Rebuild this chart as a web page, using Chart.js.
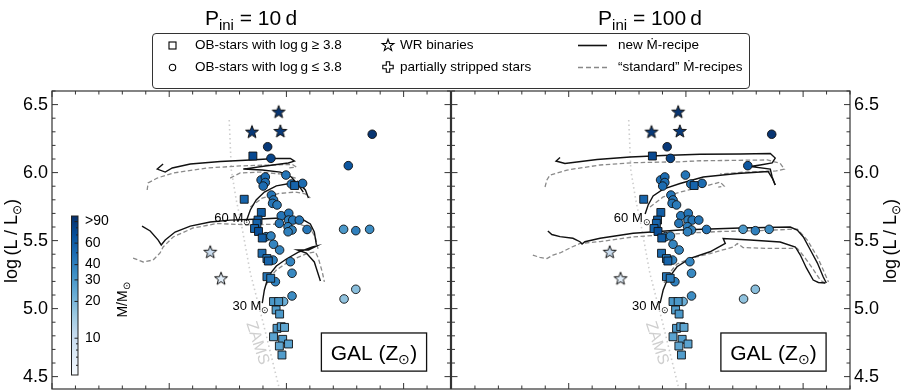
<!DOCTYPE html>
<html>
<head>
<meta charset="utf-8">
<script src="https://cdn.jsdelivr.net/npm/chart.js@4.4.1/dist/chart.umd.min.js"></script>
<style>
  html, body { margin: 0; padding: 0; background: #fff; }
  body { width: 909px; height: 391px; position: relative; overflow: hidden;
         font-family: 'Liberation Sans', Arial, Helvetica, sans-serif; color: #000; }
  canvas { position: absolute; top: 0; }
  #c1 { left: 0; }
  #c2 { left: 450px; }
  .title { position: absolute; top: 6px; font-size: 21px; line-height: 24px; white-space: nowrap; transform: translateX(-50%); }
  .title .sub { font-size: 15px; position: relative; top: 5px; }
  .ylab { position: absolute; font-size: 18px; line-height: 20px; white-space: nowrap; transform: translate(-50%, -50%) rotate(-90deg); }
  .ylab .sub { font-size: 12px; position: relative; top: 4px; }
  #legend { position: absolute; left: 152px; top: 33px; width: 596px; height: 54px; border: 1px solid #333; border-radius: 4px; background: #fff; }
  #legend .t { position: absolute; font-size: 13.5px; line-height: 16px; white-space: nowrap; }
  #legend svg { position: absolute; overflow: visible; }
</style>
</head>
<body>
<canvas id="c1" width="452" height="391" style="width:452px;height:391px"></canvas>
<canvas id="c2" width="459" height="391" style="width:459px;height:391px"></canvas>

<div class="title" style="left:251px">P<span class="sub">ini</span> = 10&#8201;d</div>
<div class="title" style="left:650px">P<span class="sub">ini</span> = 100&#8201;d</div>
<div class="ylab" style="left:12px;top:241px">log&#8201;(L / L<span class="sub">&#8857;</span>)</div>
<div class="ylab" style="left:891px;top:241px">log&#8201;(L / L<span class="sub">&#8857;</span>)</div>

<div id="legend">
  <svg style="left:15px;top:7px" width="9" height="9"><rect x="1" y="1" width="7" height="7" fill="none" stroke="#000" stroke-width="1.1"/></svg>
  <svg style="left:15px;top:29px" width="9" height="9"><circle cx="4.5" cy="4.5" r="3.2" fill="none" stroke="#000" stroke-width="1.1"/></svg>
  <svg style="left:228px;top:4px" width="14" height="14"><polygon id="lgStar" fill="none" stroke="#000" stroke-width="1.1"/></svg>
  <svg style="left:229px;top:27px" width="12" height="12"><path d="M4.3,0.8 H7.7 V4.3 H11.2 V7.7 H7.7 V11.2 H4.3 V7.7 H0.8 V4.3 H4.3 Z" fill="none" stroke="#000" stroke-width="1.1"/></svg>
  <svg style="left:425px;top:10px" width="30" height="3"><line x1="0" y1="1.5" x2="29" y2="1.5" stroke="#111" stroke-width="1.6"/></svg>
  <svg style="left:425px;top:32px" width="30" height="3"><line x1="0" y1="1.5" x2="29" y2="1.5" stroke="#888" stroke-width="1.4" stroke-dasharray="5,3"/></svg>
  <div class="t" style="left:42px;top:3px">OB-stars with log&#8201;g &#8805; 3.8</div>
  <div class="t" style="left:42px;top:25px">OB-stars with log&#8201;g &#8804; 3.8</div>
  <div class="t" style="left:247px;top:3px">WR binaries</div>
  <div class="t" style="left:247px;top:25px">partially stripped stars</div>
  <div class="t" style="left:465px;top:3px">new &#7744;-recipe</div>
  <div class="t" style="left:465px;top:25px">&#8220;standard&#8221; &#7744;-recipes</div>
</div>

<script>
// axes: x = log Teff (reversed), y = log L/Lsun
const xMin = 3.8, xMax = 5.5, yMin = 4.409, yMax = 6.6;
const yTicks = [4.5, 5.0, 5.5, 6.0, 6.5];

// colour scale (log, Blues)
const massMin = 5, massMax = 100;
const cbTicks = [10, 20, 30, 40, 60, 90];
const cbLabels = ['10', '20', '30', '40', '60', '>90'];
const cbMinor = [6, 7, 8, 9, 50, 70, 80];

// OB stars with log g >= 3.8 (squares)
const sqTeff = [4.643, 4.465, 4.680, 4.607, 4.621, 4.626, 4.636, 4.619, 4.603, 4.604, 4.583, 4.577, 4.583,
                4.567, 4.555, 4.533, 4.544, 4.529, 4.540, 4.522, 4.508, 4.555, 4.516, 4.491, 4.530, 4.519];
const sqLum  = [6.122, 5.905, 5.804, 5.707, 5.651, 5.627, 5.589, 5.567, 5.519, 5.407, 5.368, 5.350, 5.235,
                5.223, 5.052, 5.052, 4.990, 4.960, 4.855, 4.867, 4.862, 4.793, 4.774, 4.740, 4.725, 4.659];
const sqMass = [75, 55, 55, 60, 60, 55, 55, 70, 60, 50, 45, 55, 45,
                42, 30, 30, 28, 30, 30, 28, 25, 26, 28, 26, 25, 28];

// OB stars with log g <= 3.8 (circles)
const ciTeff = [4.580, 4.566, 4.134, 4.236, 4.608, 4.590, 4.590, 4.599, 4.502, 4.431, 4.479, 4.564, 4.555, 4.559,
                4.540, 4.587, 4.566, 4.522, 4.490, 4.491, 4.473, 4.445, 4.530, 4.493, 4.476, 4.493, 4.412, 4.555,
                4.529, 4.557, 4.483, 4.476, 4.476, 4.547, 4.512, 4.256, 4.204, 4.145, 4.204, 4.254];
const ciLum  = [6.190, 6.105, 6.282, 6.051, 5.946, 5.968, 5.927, 5.901, 5.982, 5.921, 5.916, 5.835, 5.799, 5.774,
                5.762, 5.529, 5.534, 5.683, 5.701, 5.651, 5.651, 5.651, 5.627, 5.602, 5.578, 5.565, 5.582, 5.473,
                5.431, 5.357, 5.345, 5.260, 5.093, 5.198, 5.052, 5.583, 5.573, 5.583, 5.142, 5.071];
const ciMass = [90, 80, 95, 65, 50, 50, 48, 50, 45, 50, 45, 45, 45, 45,
                42, 40, 40, 45, 45, 40, 45, 45, 45, 40, 38, 40, 45, 38,
                38, 40, 38, 36, 35, 40, 22, 30, 40, 35, 18, 17];

// WR binaries (stars)
const wrTeff = [4.533, 4.647, 4.526, 4.825, 4.779];
const wrLum  = [6.448, 6.301, 6.306, 5.418, 5.223];
const wrMass = [95, 90, 90, 10, 7];

// zero-age main sequence
const zamsTeff = [4.744, 4.735, 4.714, 4.693, 4.654, 4.599, 4.530];
const zamsLum  = [6.387, 6.019, 5.799, 5.629, 5.262, 4.894, 4.409];

// P_ini = 10 d, new Mdot recipe
const p10NewUpperT = [5.026, 5.051, 5.017, 4.987, 4.910, 4.782, 4.654, 4.547, 4.483, 4.466, 4.492, 4.590, 4.684, 4.603, 4.526, 4.479, 4.449, 4.428];
const p10NewUpperL = [6.063, 6.026, 6.004, 6.034, 6.063, 6.082, 6.093, 6.104, 6.104, 6.085, 6.071, 6.049, 6.026, 6.019, 6.004, 5.968, 5.909, 5.857];
const p10New60T = [4.671, 4.654, 4.629, 4.594, 4.543, 4.475, 4.441, 4.419, 4.406];
const p10New60L = [5.644, 5.725, 5.799, 5.857, 5.902, 5.924, 5.909, 5.872, 5.813];
const p10NewMidT = [5.116, 5.081, 5.047, 5.034, 5.017, 4.975, 4.910, 4.825, 4.740, 4.611, 4.526, 4.441, 4.398, 4.381, 4.372];
const p10NewMidL = [5.607, 5.571, 5.504, 5.468, 5.504, 5.563, 5.607, 5.637, 5.651, 5.659, 5.666, 5.666, 5.622, 5.563, 5.468];
const p10New30T = [4.603, 4.594, 4.577, 4.543, 4.500, 4.449, 4.389, 4.372, 4.406, 4.453, 4.415, 4.381, 4.355];
const p10New30L = [5.041, 5.137, 5.240, 5.313, 5.365, 5.416, 5.453, 5.460, 5.431, 5.431, 5.409, 5.343, 5.203];

// P_ini = 10 d, "standard" recipes
const p10StdUpperT = [5.094, 5.090, 5.051, 4.983, 4.838, 4.697, 4.569, 4.475, 4.458, 4.492];
const p10StdUpperL = [5.872, 5.924, 5.960, 5.997, 6.034, 6.049, 6.056, 6.060, 6.041, 6.034];
const p10StdUpper2T = [4.740, 4.697, 4.611, 4.526, 4.462, 4.419];
const p10StdUpper2L = [5.960, 5.997, 6.004, 5.990, 5.960, 5.872];
const p10Std60T = [4.654, 4.603, 4.535, 4.462, 4.419, 4.398];
const p10Std60L = [5.747, 5.813, 5.846, 5.857, 5.843, 5.813];
const p10StdMidT = [5.154, 5.111, 5.069, 5.039, 5.026, 4.983, 4.898, 4.795, 4.654, 4.526, 4.453, 4.398, 4.376, 4.364];
const p10StdMidL = [5.372, 5.343, 5.357, 5.409, 5.453, 5.527, 5.593, 5.626, 5.615, 5.622, 5.626, 5.593, 5.519, 5.431];
const p10Std30T = [4.586, 4.569, 4.543, 4.492, 4.449, 4.406, 4.376, 4.364, 4.347, 4.338];
const p10Std30L = [5.174, 5.232, 5.284, 5.343, 5.379, 5.409, 5.416, 5.372, 5.269, 5.196];

// P_ini = 100 d, new Mdot recipe
const p100NewUpperT = [5.037, 5.054, 5.016, 4.879, 4.738, 4.597, 4.439, 4.268, 4.140, 4.119, 4.132, 4.183, 4.226, 4.140, 4.132, 4.119];
const p100NewUpperL = [6.111, 6.085, 6.067, 6.096, 6.115, 6.126, 6.135, 6.137, 6.140, 6.107, 6.071, 6.056, 6.045, 6.026, 5.968, 5.909];
const p100New60T = [4.674, 4.661, 4.640, 4.597, 4.525, 4.426, 4.281, 4.149, 4.132, 4.119];
const p100New60L = [5.696, 5.762, 5.828, 5.879, 5.920, 5.968, 5.993, 6.008, 5.960, 5.909];
const p100NewMidT = [5.089, 5.072, 5.037, 4.982, 4.952, 4.943, 4.931, 4.866, 4.725, 4.525, 4.268, 4.055, 4.025, 3.999, 3.969, 3.939, 3.914, 3.901];
const p100NewMidL = [5.571, 5.545, 5.529, 5.517, 5.492, 5.475, 5.492, 5.517, 5.554, 5.578, 5.593, 5.600, 5.578, 5.527, 5.431, 5.335, 5.232, 5.188];
const p100New30T = [4.610, 4.597, 4.580, 4.538, 4.482, 4.397, 4.332, 4.341, 4.226, 4.098, 4.033, 4.012, 3.986, 3.957, 3.935, 3.905];
const p100New30L = [5.041, 5.137, 5.210, 5.308, 5.370, 5.418, 5.479, 5.515, 5.504, 5.490, 5.453, 5.394, 5.299, 5.210, 5.192, 5.188];

// P_ini = 100 d, "standard" recipes
const p100StdUpperT = [5.101, 5.093, 5.080, 5.007, 4.866, 4.725, 4.525, 4.439, 4.153, 4.098, 4.080, 4.115, 4.247, 4.354];
const p100StdUpperL = [5.894, 5.946, 5.982, 6.019, 6.056, 6.073, 6.080, 6.087, 6.093, 6.068, 6.026, 6.012, 6.004, 5.990];
const p100Std60T = [4.653, 4.597, 4.525, 4.452, 4.384, 4.354, 4.337, 4.362];
const p100Std60L = [5.747, 5.821, 5.857, 5.887, 5.916, 5.931, 5.901, 5.894];
const p100StdMidT = [5.153, 5.123, 5.093, 5.067, 5.037, 4.986, 4.952, 4.866, 4.725, 4.525, 4.354, 4.183, 4.025, 3.982, 3.939, 3.914, 3.892];
const p100StdMidL = [5.394, 5.376, 5.368, 5.394, 5.409, 5.453, 5.479, 5.493, 5.527, 5.552, 5.567, 5.574, 5.585, 5.504, 5.379, 5.284, 5.196];
const p100Std30T = [4.593, 4.567, 4.538, 4.482, 4.397, 4.298, 4.281, 4.256, 4.153, 4.025, 3.991, 3.961, 3.927, 3.901];
const p100Std30L = [5.188, 5.269, 5.328, 5.368, 5.405, 5.453, 5.479, 5.449, 5.443, 5.443, 5.372, 5.299, 5.210, 5.181];

// initial-mass labels (right end / baseline)
const massLabels = ['60', '30'];
const massLabelT = [4.650, 4.573];
const massLabelL = [5.639, 4.992];

const FONT = "'Liberation Sans', Arial, Helvetica, sans-serif";
Chart.defaults.font.family = FONT;
Chart.defaults.color = '#000';

// Blues colormap
const bluesStops = ['#f7fbff', '#deebf7', '#c6dbef', '#9ecae1', '#6baed6', '#4292c6', '#2171b5', '#08519c', '#08306b'];
function hexRgb(h) { return [1, 3, 5].map(i => parseInt(h.substr(i, 2), 16)); }
function blues(t) {
    t = Math.max(0, Math.min(1, t));
    const s = t * 8, i = Math.min(7, Math.floor(s)), f = s - i;
    const a = hexRgb(bluesStops[i]), b = hexRgb(bluesStops[i + 1]);
    const c = a.map((v, k) => Math.round(v + (b[k] - v) * f));
    return `rgb(${c[0]},${c[1]},${c[2]})`;
}
function massFrac(m) { return Math.log(m / massMin) / Math.log(massMax / massMin); }
function massColor(m) { return blues(massFrac(m)); }

// filled star marker as image
const starCache = {};
function starPoints(cx, cy, ro, ri) {
    const pts = [];
    for (let i = 0; i < 10; i++) {
        const r = i % 2 ? ri : ro, a = -Math.PI / 2 + i * Math.PI / 5;
        pts.push([cx + r * Math.cos(a), cy + r * Math.sin(a)]);
    }
    return pts;
}
function starImage(color) {
    if (starCache[color]) return starCache[color];
    const c = document.createElement('canvas');
    c.width = 16; c.height = 16;
    const g = c.getContext('2d');
    g.beginPath();
    starPoints(8, 8.6, 6.8, 2.8).forEach(p => g.lineTo(p[0], p[1]));
    g.closePath();
    g.fillStyle = color; g.fill();
    g.lineWidth = 1; g.strokeStyle = '#111'; g.stroke();
    starCache[color] = c;
    return c;
}
document.getElementById('lgStar').setAttribute('points',
    starPoints(7, 7.4, 6.2, 2.5).map(p => p[0].toFixed(2) + ',' + p[1].toFixed(2)).join(' '));

function toXY(T, L) { return T.map((t, i) => ({ x: t, y: L[i] })); }

function trackSet(T, L, dashed) {
    return {
        data: toXY(T, L), showLine: true, pointRadius: 0, tension: 0,
        borderColor: dashed ? '#8a8a8a' : '#111',
        borderWidth: dashed ? 1.3 : 1.4,
        borderDash: dashed ? [4.5, 2.5] : [],
        order: 2
    };
}

function pointSets() {
    return [
        { data: toXY(wrTeff, wrLum), pointStyle: wrMass.map(m => starImage(massColor(m))), pointRadius: 6, order: 0 },
        { data: toXY(sqTeff, sqLum), pointStyle: 'rect', pointRadius: 5.6, backgroundColor: sqMass.map(massColor),
          borderColor: '#111', borderWidth: 0.9, order: 1 },
        { data: toXY(ciTeff, ciLum), pointStyle: 'circle', pointRadius: 4.3, backgroundColor: ciMass.map(massColor),
          borderColor: '#111', borderWidth: 0.9, order: 1 },
        { data: toXY(zamsTeff, zamsLum), showLine: true, pointRadius: 0, borderColor: '#cdcdcd',
          borderWidth: 1.6, borderDash: [1.5, 3], order: 3 }
    ];
}

// text with ⊙ subscripts: parts = [[text, isSub], ...]
function drawParts(ctx, parts, x, y, size, align) {
    const widths = parts.map(([t, sub]) => { ctx.font = `${sub ? size * 0.68 : size}px ${FONT}`; return ctx.measureText(t).width; });
    const total = widths.reduce((a, b) => a + b, 0);
    let cx = align === 'center' ? x - total / 2 : align === 'right' ? x - total : x;
    ctx.textAlign = 'left';
    ctx.textBaseline = 'alphabetic';
    parts.forEach(([t, sub], i) => {
        ctx.font = `${sub ? size * 0.68 : size}px ${FONT}`;
        ctx.fillText(t, cx, y + (sub ? size * 0.22 : 0));
        cx += widths[i];
    });
}

function drawColorbar(ctx) {
    const x0 = 71.5, x1 = 78, y0 = 216, y1 = 375;
    const grad = ctx.createLinearGradient(0, y1, 0, y0);
    for (let i = 0; i <= 24; i++) grad.addColorStop(i / 24, blues(i / 24));
    ctx.fillStyle = grad;
    ctx.fillRect(x0, y0, x1 - x0, y1 - y0);
    ctx.strokeStyle = '#222';
    ctx.lineWidth = 1;
    ctx.strokeRect(x0, y0, x1 - x0, y1 - y0);
    const yOf = m => y1 - (y1 - y0) * massFrac(m);
    ctx.beginPath();
    cbTicks.forEach(m => { const y = yOf(m); ctx.moveTo(x1, y); ctx.lineTo(x1 - 3.5, y); });
    cbMinor.forEach(m => { const y = yOf(m); ctx.moveTo(x1, y); ctx.lineTo(x1 - 2, y); });
    ctx.stroke();
    ctx.fillStyle = '#000';
    ctx.font = `14px ${FONT}`;
    ctx.textAlign = 'left';
    ctx.textBaseline = 'middle';
    cbTicks.forEach((m, i) => ctx.fillText(cbLabels[i], x1 + 7, yOf(m)));
    ctx.save();
    ctx.translate(127, 300);
    ctx.rotate(-Math.PI / 2);
    drawParts(ctx, [['M/M', false], ['\u2299', true]], 0, 0, 14, 'center');
    ctx.restore();
}

const hrdDecor = {
    id: 'hrdDecor',
    afterDatasetsDraw(chart, args, opts) {
        const ctx = chart.ctx, a = chart.chartArea, xs = chart.scales.x, ys = chart.scales.y;
        ctx.save();

        // ZAMS label
        ctx.save();
        ctx.translate(xs.getPixelForValue(4.624), ys.getPixelForValue(4.747));
        ctx.rotate(72 * Math.PI / 180);
        ctx.fillStyle = '#cfcfcf';
        ctx.font = `16px ${FONT}`;
        ctx.textAlign = 'center';
        ctx.textBaseline = 'middle';
        ctx.fillText('ZAMS', 0, 0);
        ctx.restore();

        // initial mass labels
        ctx.fillStyle = '#000';
        massLabels.forEach((m, i) => {
            drawParts(ctx, [[m + ' M', false], ['\u2299', true]],
                xs.getPixelForValue(massLabelT[i]), ys.getPixelForValue(massLabelL[i]), 13, 'right');
        });

        // GAL box
        const bx0 = a.left + 0.676 * (a.right - a.left), bx1 = a.left + 0.940 * (a.right - a.left);
        const by0 = a.top + 0.812 * (a.bottom - a.top), by1 = a.top + 0.940 * (a.bottom - a.top);
        ctx.fillStyle = '#fff';
        ctx.fillRect(bx0, by0, bx1 - bx0, by1 - by0);
        ctx.strokeStyle = '#111';
        ctx.lineWidth = 1.3;
        ctx.strokeRect(bx0, by0, bx1 - bx0, by1 - by0);
        ctx.fillStyle = '#000';
        drawParts(ctx, [['GAL (Z', false], ['\u2299', true], [')', false]], (bx0 + bx1) / 2, (by0 + by1) / 2 + 7.5, 21, 'center');

        if (opts.colorbar) drawColorbar(ctx);

        // frame and inward ticks
        ctx.strokeStyle = '#333';
        ctx.lineWidth = 1.2;
        ctx.strokeRect(a.left, a.top, a.right - a.left, a.bottom - a.top);
        ctx.lineWidth = 1;
        ctx.beginPath();
        for (let k = 38; k <= 55; k++) {
            const x = xs.getPixelForValue(k / 10), len = k % 5 === 0 ? 6 : 3.5;
            ctx.moveTo(x, a.top); ctx.lineTo(x, a.top + len);
            ctx.moveTo(x, a.bottom); ctx.lineTo(x, a.bottom - len);
        }
        for (let k = 45; k <= 66; k++) {
            const y = ys.getPixelForValue(k / 10), len = k % 5 === 0 ? 6 : 3.5;
            ctx.moveTo(a.left, y); ctx.lineTo(a.left + len, y);
            ctx.moveTo(a.right, y); ctx.lineTo(a.right - len, y);
        }
        ctx.stroke();
        ctx.restore();
    }
};

function makePanel(id, tracks, side, colorbar) {
    const datasets = pointSets().concat(tracks.map(t => trackSet(t[0], t[1], t[2])));
    return new Chart(document.getElementById(id), {
        type: 'scatter',
        data: { datasets: datasets },
        options: {
            responsive: false,
            animation: false,
            events: [],
            layout: {
                autoPadding: false,
                padding: side === 'left' ? { left: 0, right: 1.5, top: 91, bottom: 2 } : { left: 1.5, right: 0, top: 91, bottom: 2 }
            },
            scales: {
                x: { type: 'linear', reverse: true, min: xMin, max: xMax, display: false },
                y: {
                    type: 'linear', position: side, min: yMin, max: yMax,
                    grid: { display: false, drawTicks: false },
                    border: { display: false },
                    afterBuildTicks: s => { s.ticks = yTicks.map(v => ({ value: v })); },
                    afterFit: s => {
                        s.width = side === 'left' ? 52 : 59;
                        s.paddingTop = 0; s.paddingBottom = 0; s.paddingLeft = 0; s.paddingRight = 0;
                    },
                    ticks: { autoSkip: false, padding: 4, font: { size: 18 }, color: '#000', callback: v => Number(v).toFixed(1) }
                }
            },
            plugins: { legend: { display: false }, tooltip: { enabled: false }, hrdDecor: { colorbar: colorbar } }
        },
        plugins: [hrdDecor]
    });
}

makePanel('c1', [
    [p10NewUpperT, p10NewUpperL, false], [p10New60T, p10New60L, false],
    [p10NewMidT, p10NewMidL, false], [p10New30T, p10New30L, false],
    [p10StdUpperT, p10StdUpperL, true], [p10StdUpper2T, p10StdUpper2L, true],
    [p10Std60T, p10Std60L, true], [p10StdMidT, p10StdMidL, true], [p10Std30T, p10Std30L, true]
], 'left', true);

makePanel('c2', [
    [p100NewUpperT, p100NewUpperL, false], [p100New60T, p100New60L, false],
    [p100NewMidT, p100NewMidL, false], [p100New30T, p100New30L, false],
    [p100StdUpperT, p100StdUpperL, true], [p100Std60T, p100Std60L, true],
    [p100StdMidT, p100StdMidL, true], [p100Std30T, p100Std30L, true]
], 'right', false);
</script>
</body>
</html>
